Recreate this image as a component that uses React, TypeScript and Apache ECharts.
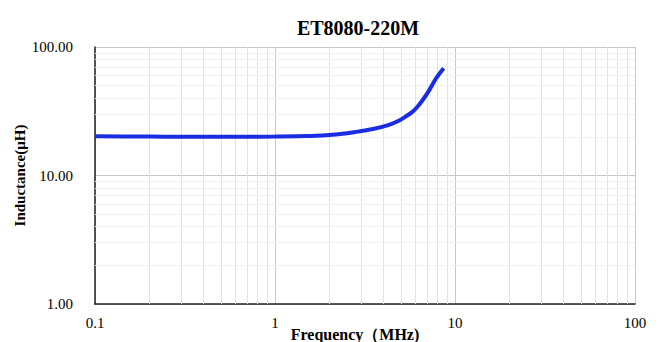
import React, { useEffect, useRef } from "react";
import * as echarts from "echarts";

const title = "ET8080-220M";
const freqMHz = [0.1, 0.2, 0.3, 0.5, 0.7, 1, 1.5, 2, 2.3, 2.8, 3.5, 4.3, 4.9, 5.35, 5.75, 6.1, 6.6, 7.2, 7.85, 8.65];
const inductance = [20.2, 20.1, 20.0, 20.0, 20.0, 20.1, 20.3, 20.7, 21.0, 21.8, 23.0, 24.8, 26.8, 28.9, 31.0, 33.5, 38.5, 46.2, 57.0, 68.4];
const xMinorTicks = [0.2, 0.3, 0.4, 0.5, 0.6, 0.7, 0.8, 0.9, 2, 3, 4, 5, 6, 7, 8, 9, 20, 30, 40, 50, 60, 70, 80, 90];
const yMinorTicks = [2, 3, 4, 5, 6, 7, 8, 9, 20, 30, 40, 50, 60, 70, 80, 90];

export default function App() {
  const ref = useRef<HTMLDivElement>(null);
  useEffect(() => {
    const chart = echarts.init(ref.current!, null, { renderer: "svg" });
    const font = "'Liberation Serif', 'Times New Roman', serif";
    chart.setOption({
      animation: false,
      backgroundColor: "#ffffff",
      title: {
        text: title,
        left: 353,
        top: 13,
        textAlign: "center",
        textStyle: { fontFamily: font, fontSize: 20, fontWeight: "bold", color: "#000" },
      },
      grid: { left: 95, right: 23, top: 47, bottom: 38, outerBoundsMode: "none", containLabel: false },
      xAxis: {
        type: "log",
        logBase: 10,
        min: 0.1,
        max: 100,
        name: "Frequency（MHz)",
        nameLocation: "middle",
        nameGap: 22,
        nameMoveOverlap: false,
        nameTextStyle: { fontFamily: font, fontSize: 16, fontWeight: "bold", color: "#000", padding: [0, 20, 0, 0] },
        axisLine: { show: true, lineStyle: { color: "#222", width: 1.5 } },
        axisTick: { show: false },
        axisLabel: {
          fontFamily: font,
          fontSize: 15,
          color: "#000",
          margin: 11,
          formatter: (v: number) => (v < 1 ? v.toFixed(1) : String(Math.round(v))),
        },
        splitLine: { show: true, lineStyle: { color: "#c8c8c8", width: 1 } },
      },
      yAxis: {
        type: "log",
        logBase: 10,
        min: 1,
        max: 100,
        name: "Inductance(μH)",
        nameLocation: "middle",
        nameGap: 68,
        nameMoveOverlap: false,
        nameTextStyle: { fontFamily: font, fontSize: 15, fontWeight: "bold", color: "#000" },
        axisLine: { show: true, lineStyle: { color: "#222", width: 1.5 } },
        axisTick: { show: false },
        axisLabel: {
          fontFamily: font,
          fontSize: 15,
          color: "#000",
          margin: 22,
          formatter: (v: number) => v.toFixed(2),
        },
        splitLine: { show: true, lineStyle: { color: "#c8c8c8", width: 1 } },
      },
      series: [
        {
          type: "line",
          data: [],
          silent: true,
          markLine: {
            silent: true,
            symbol: "none",
            label: { show: false },
            lineStyle: { color: "#e2e2e2", width: 1, type: "solid" },
            data: xMinorTicks.map((v) => ({ xAxis: v })),
          },
          z: 1,
        },
        {
          type: "line",
          data: [],
          silent: true,
          markLine: {
            silent: true,
            symbol: "none",
            label: { show: false },
            lineStyle: { color: "#f0f0f0", width: 1, type: "solid" },
            data: yMinorTicks.map((v) => ({ yAxis: v })),
          },
          z: 1,
        },
        {
          type: "line",
          data: freqMHz.map((f, i) => [f, inductance[i]]),
          smooth: 0.3,
          showSymbol: false,
          lineStyle: { color: "#1a2de2", width: 4 },
          z: 5,
        },
      ],
    });
    return () => chart.dispose();
  }, []);
  return <div ref={ref} style={{ width: 658, height: 342, position: "absolute", left: 0, top: 0 }} />;
}
